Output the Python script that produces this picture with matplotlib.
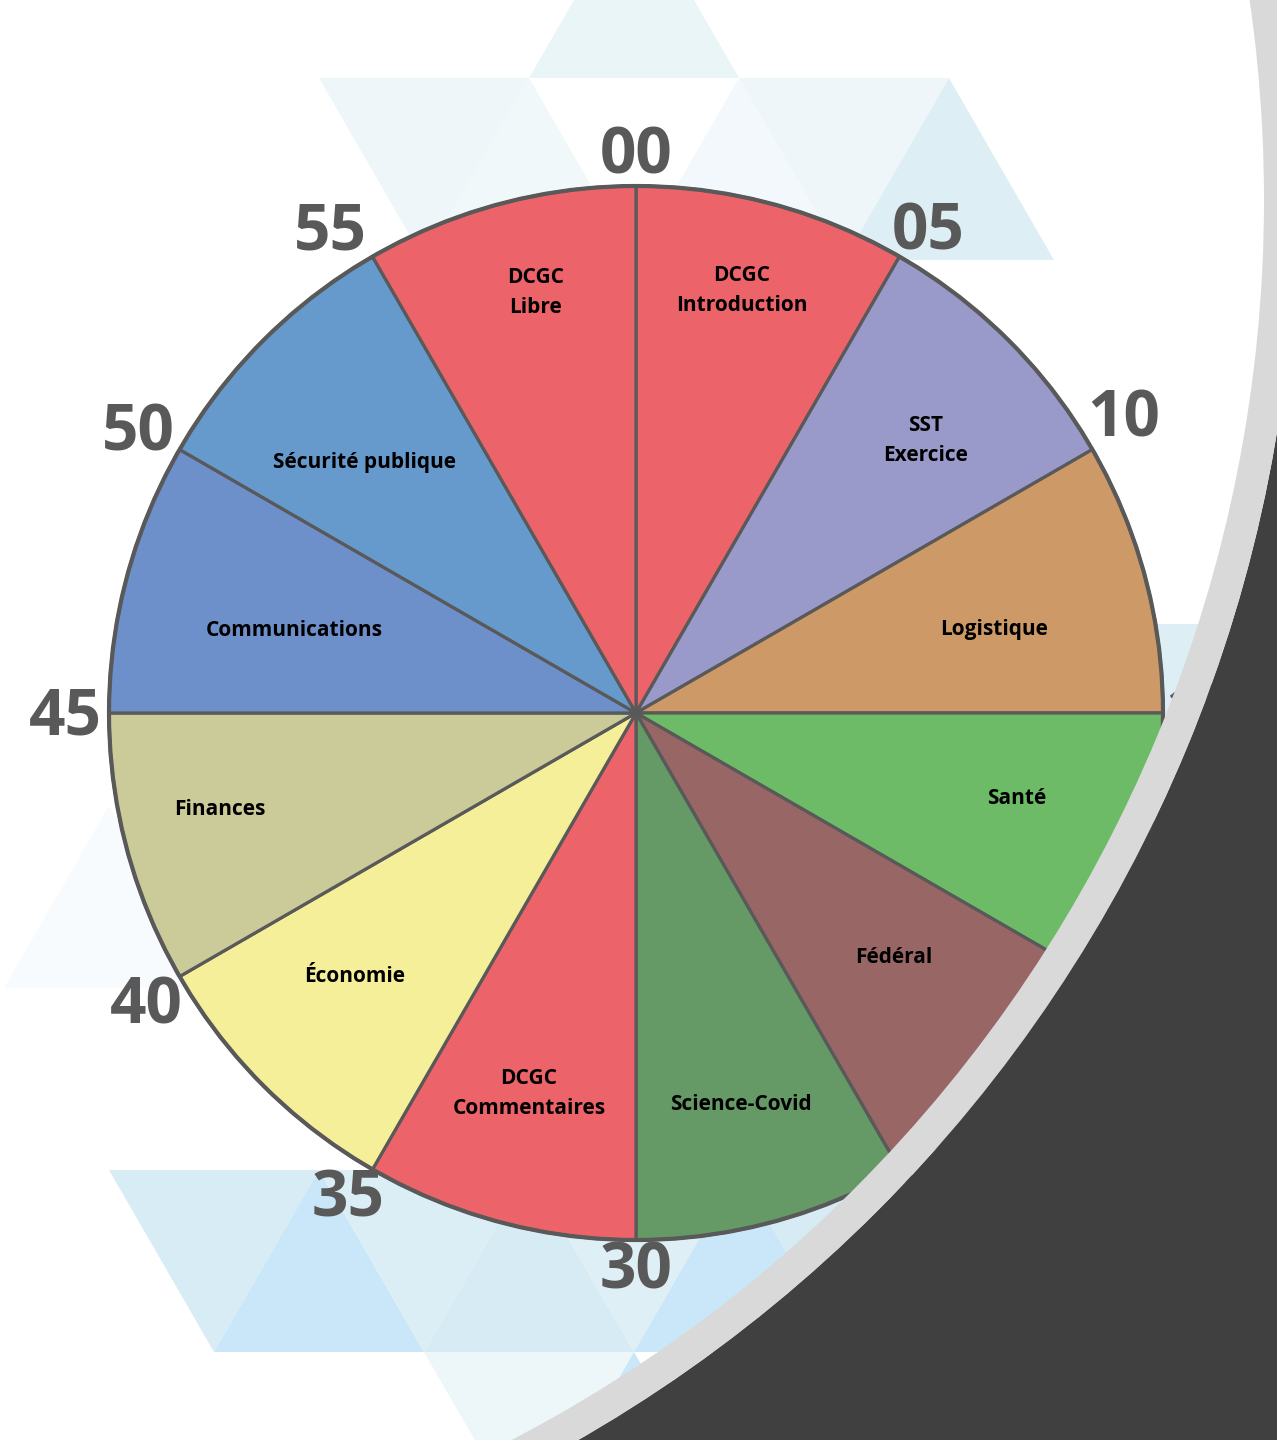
import numpy as np
import matplotlib
matplotlib.use("Agg")
import matplotlib.pyplot as plt
from matplotlib.patches import Polygon, Wedge, Circle

# ---------------- data ----------------
categories = ["DCGC\nIntroduction", "SST\nExercice", "Logistique", "Santé", "Fédéral",
              "Science-Covid", "DCGC\nCommentaires", "Économie", "Finances",
              "Communications", "Sécurité publique", "DCGC\nLibre"]
minutes = [5, 5, 5, 5, 5, 5, 5, 5, 5, 5, 5, 5]
slice_colors = ["#EC6469", "#9999CA", "#CD9966", "#6DBA67", "#996666", "#659965",
                "#EC6469", "#F5EF99", "#CBCA99", "#6D8FCA", "#6699CC", "#EC6469"]
tick_labels = ["00", "05", "10", "15", "20", "25", "30", "35", "40", "45", "50", "55"]

# ---------------- layout ----------------
W, H = 1277, 1440
cx, cy, R = 636, H - 713, 527
label_rfrac = [0.827, 0.755, 0.698, 0.740, 0.674, 0.770, 0.750, 0.731, 0.810, 0.668, 0.700, 0.820]
label_ang = [14.0, 46.7, 76.9, 102.6, 133.4, 165.0, 195.7, 226.9, 256.9, 283.6, 312.7, 346.6]
tick_rfrac = [1.055, 1.066, 1.080, 1.073, 1.07, 1.07, 1.060, 1.074, 1.085, 1.082, 1.083, 1.080]
tick_ang = [0, 31.3, 59.0, 90, 120, 150, 180, 210.6, 239.0, 269.5, 299.3, 327.5]

fig = plt.figure(figsize=(W / 100, H / 100), dpi=100)
ax = fig.add_axes([0, 0, 1, 1])
fig.patch.set_facecolor("white")

# ---------------- background triangles (decoration) ----------------
def vx(r, c):
    return 529 + 210 * c + (105 if r % 2 else 0)

def vy(r):
    return 78 + 182 * r

def tri(r, c, up):
    if up:
        pts = [(vx(r, c), vy(r)), (vx(r, c) - 105, vy(r + 1)), (vx(r, c) + 105, vy(r + 1))]
    else:
        pts = [(vx(r, c), vy(r)), (vx(r, c + 1), vy(r)), (vx(r, c) + 105, vy(r + 1))]
    return [(x, H - y) for x, y in pts]

bg_tris = [
    (-1, 0, True, "#EAF5F8"),
    (0, -1, False, "#EEF6F9"),
    (0, 0, True, "#F1F8FA"),
    (0, 1, True, "#F2F8FB"),
    (0, 1, False, "#EEF6F9"),
    (0, 2, True, "#DDEFF5"),
    (2, 1, False, "#DDEFF5"),
    (3, 2, False, "#DDEFF5"),
    (4, -2, True, "#F8FBFD"),
    (6, -2, False, "#D8ECF5"),
    (6, -1, True, "#C9E7F9"),
    (6, -1, False, "#DCEEF5"),
    (6, 0, True, "#D6EBF3"),
    (6, 0, False, "#DFEFF6"),
    (6, 1, True, "#C9E7F9"),
    (6, 1, False, "#D6EBF3"),
    (7, -1, False, "#EDF6F9"),
    (7, 0, True, "#C9E7F9"),
]
for r, c, up, col in bg_tris:
    ax.add_patch(Polygon(tri(r, c, up), closed=True, facecolor=col, edgecolor="none", zorder=1))

# ---------------- pie ----------------
wedges, _ = ax.pie(minutes, colors=slice_colors, startangle=90, counterclock=False,
                   radius=R, center=(cx, cy),
                   wedgeprops=dict(edgecolor="#595959", linewidth=2.3, zorder=3))
ax.add_patch(Circle((cx, cy), R, facecolor="none", edgecolor="#595959", linewidth=3.0, zorder=4))

for name, rf, a in zip(categories, label_rfrac, label_ang):
    t = np.deg2rad(a)
    ax.text(cx + rf * R * np.sin(t), cy + rf * R * np.cos(t), name,
            ha="center", va="center", fontsize=15, fontweight="bold",
            family=["Open Sans", "DejaVu Sans"], color="black", linespacing=1.55, zorder=5)

for lab, rf, a in zip(tick_labels, tick_rfrac, tick_ang):
    t = np.deg2rad(a)
    ax.text(cx + rf * R * np.sin(t), cy + rf * R * np.cos(t), lab,
            ha="center", va="center", fontsize=46, fontweight="bold",
            family=["Open Sans", "DejaVu Sans"], color="#595959", zorder=5)

# ---------------- dark curved overlay ----------------
oc = (-134, H - 200)
ax.add_patch(Wedge(oc, 2800, 0, 360, width=2800 - 1430, facecolor="#404040",
                   edgecolor="none", zorder=10))
ax.add_patch(Wedge(oc, 1430, 0, 360, width=1430 - 1398, facecolor="#D9D9D9",
                   edgecolor="none", zorder=10))

ax.set_xlim(0, W)
ax.set_ylim(0, H)
ax.set_aspect("auto")
ax.axis("off")
fig.savefig("out.png", dpi=100, facecolor="white")
